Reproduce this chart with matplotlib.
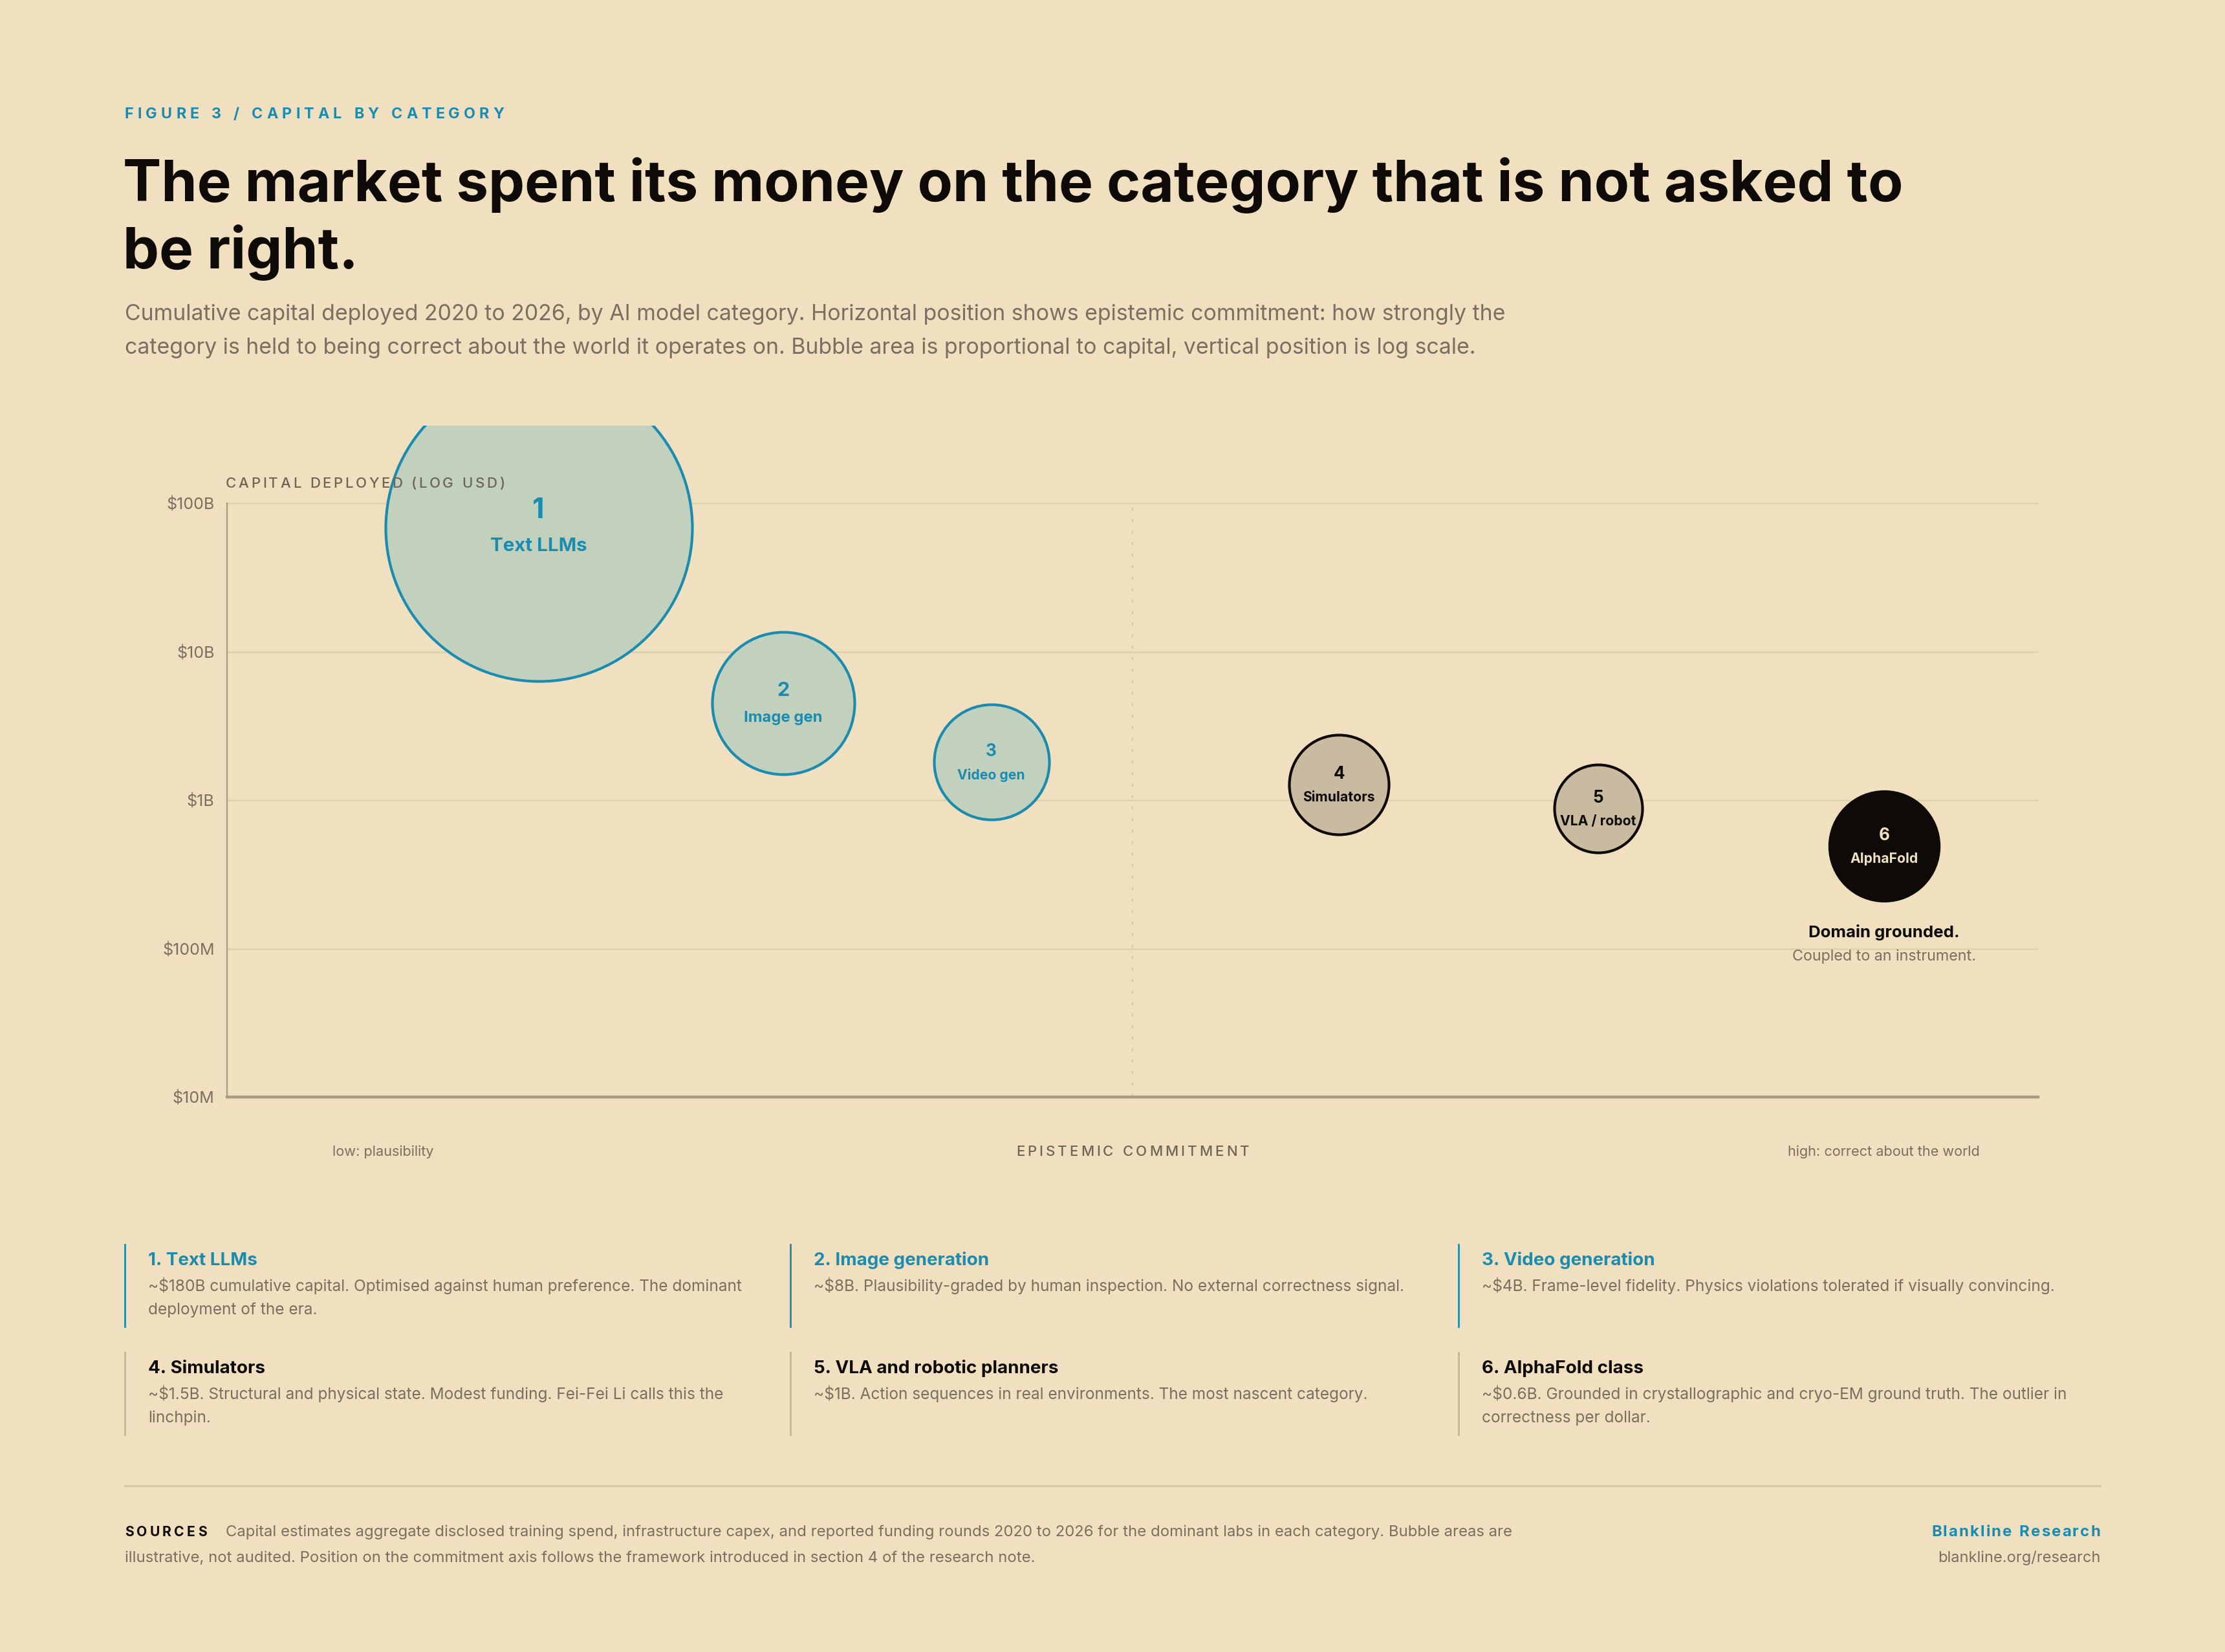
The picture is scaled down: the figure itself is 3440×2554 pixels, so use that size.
import matplotlib
matplotlib.use("Agg")
import matplotlib.pyplot as plt
import numpy as np

plt.rcParams['font.family'] = ['Inter', 'DejaVu Sans']

# ---- data -------------------------------------------------------------
categories = ["Text LLMs", "Image gen", "Video gen", "Simulators", "VLA / robot", "AlphaFold"]
numbers = ["1", "2", "3", "4", "5", "6"]
commitment = [0.172, 0.307, 0.422, 0.614, 0.757, 0.915]          # 0 = plausibility, 1 = correct
capital_pos = [6.8e10, 4.5e9, 1.8e9, 1.27e9, 8.8e8, 4.9e8]          # plotted vertical position, USD
bubble_area = [1.0, 0.2154, 0.1410, 0.1056, 0.0823, 0.1317]        # relative bubble area
group = ["gen", "gen", "gen", "world", "world", "grounded"]

ytick_vals = [1e7, 1e8, 1e9, 1e10, 1e11]
ytick_labels = ["$10M", "$100M", "$1B", "$10B", "$100B"]

card_titles = ["1. Text LLMs", "2. Image generation", "3. Video generation",
               "4. Simulators", "5. VLA and robotic planners", "6. AlphaFold class"]
card_bodies = [
    "~$180B cumulative capital. Optimised against human preference. The dominant\ndeployment of the era.",
    "~$8B. Plausibility-graded by human inspection. No external correctness signal.",
    "~$4B. Frame-level fidelity. Physics violations tolerated if visually convincing.",
    "~$1.5B. Structural and physical state. Modest funding. Fei-Fei Li calls this the\nlinchpin.",
    "~$1B. Action sequences in real environments. The most nascent category.",
    "~$0.6B. Grounded in crystallographic and cryo-EM ground truth. The outlier in\ncorrectness per dollar.",
]

# ---- style ------------------------------------------------------------
BG = "#F0E0BF"
TEAL = "#1A8CB0"
INK = "#0E0A07"
GREY = "#7A6F60"
AXIS = "#A89B80"
GRID = "#E2D2B0"

W, H, DPI = 3440, 2554, 200
fig = plt.figure(figsize=(W / DPI, H / DPI), dpi=DPI, facecolor=BG)


def fx(px):
    return px / W


def fy(py):
    return 1 - py / H


def txt(x, y, s, **kw):
    kw.setdefault('va', 'baseline')
    return fig.text(fx(x), fy(y), s, transform=fig.transFigure, **kw)


def tracked(x, y, s, size, track, ha='left', **kw):
    # letter-spaced text, x/y in pixels, track in em
    r = fig.canvas.get_renderer()
    em = size * DPI / 72
    widths = []
    for ch in s:
        if ch == ' ':
            widths.append(0.3 * em)
        else:
            t = fig.text(0, 0, ch, fontsize=size, **kw)
            widths.append(t.get_window_extent(r).width)
            t.remove()
    total = sum(widths) + track * em * (len(s) - 1)
    x0 = x - total / 2 if ha == 'center' else (x - total if ha == 'right' else x)
    for ch, w in zip(s, widths):
        if ch != ' ':
            txt(x0, y, ch, fontsize=size, ha='left', **kw)
        x0 += w + track * em


# ---- header -----------------------------------------------------------
tracked(193, 183, "FIGURE 3 / CAPITAL BY CATEGORY", 8.4, 0.26, color=TEAL, weight='bold')
txt(190, 311, "The market spent its money on the category that is not asked to",
    fontsize=32, weight='bold', color=INK)
txt(190, 415, "be right.", fontsize=32, weight='bold', color=INK)
txt(193, 495, "Cumulative capital deployed 2020 to 2026, by AI model category. Horizontal position "
    "shows epistemic commitment: how strongly the", fontsize=12.2, color=GREY)
txt(193, 547, "category is held to being correct about the world it operates on. Bubble area is "
    "proportional to capital, vertical position is log scale.", fontsize=12.2, color=GREY)

# ---- chart ------------------------------------------------------------
ax = fig.add_axes([fx(351), fy(1696), fx(3151) - fx(351), fy(658) - fy(1696)])
ax.set_facecolor('none')
ax.set_yscale('log')
ax.set_xlim(0, 1)
ax.set_ylim(1e7, 10 ** 11.523)
for s in ['top', 'right']:
    ax.spines[s].set_visible(False)
ax.spines['left'].set_color(AXIS)
ax.spines['left'].set_linewidth(0.8)
ax.spines['left'].set_bounds(1e7, 1e11)
ax.spines['bottom'].set_color(AXIS)
ax.spines['bottom'].set_linewidth(1.6)
ax.set_xticks([])
ax.yaxis.set_minor_locator(matplotlib.ticker.NullLocator())
ax.set_yticks(ytick_vals)
ax.set_yticklabels(ytick_labels)
ax.tick_params(axis='y', length=0, pad=7, labelsize=9, labelcolor=GREY)

for v in ytick_vals[1:]:
    ax.axhline(v, color=GRID, lw=1.0, zorder=0)
ax.plot([0.5, 0.5], [1e7, 1e11], ls=(0, (2, 6)), color="#D6C6A6", lw=0.8, zorder=0)

r_max_px = 237
s_max = (2 * r_max_px * 72 / DPI) ** 2
styles = {
    "gen": dict(fc="#C2D1BE", ec=TEAL, tc=TEAL, lw=1.5),
    "world": dict(fc="#C9BBA0", ec=INK, tc=INK, lw=1.5),
    "grounded": dict(fc=INK, ec=INK, tc=BG, lw=0.5),
}
for xv, yv, a, g, num, lab in zip(commitment, capital_pos, bubble_area, group, numbers, categories):
    st = styles[g]
    ax.scatter([xv], [yv], s=a * s_max, facecolor=st['fc'], edgecolor=st['ec'],
               linewidth=st['lw'], zorder=3)
    r_px = r_max_px * np.sqrt(a)
    fs_num = max(9.4, min(15.5, r_px * 0.1))
    fs_lab = max(7.6, min(10.6, r_px * 0.078))
    ax.annotate(num, (xv, yv), xytext=(0, 0.62 * fs_num), textcoords='offset points',
                ha='center', va='center', fontsize=fs_num, weight='bold', color=st['tc'], zorder=4)
    ax.annotate(lab, (xv, yv), xytext=(0, -0.95 * fs_lab), textcoords='offset points',
                ha='center', va='center', fontsize=fs_lab, weight='bold', color=st['tc'], zorder=4)

# note under AlphaFold
ax.annotate("Domain grounded.", (commitment[-1], capital_pos[-1]), xytext=(0, -48),
            textcoords='offset points', ha='center', va='center', fontsize=9.3,
            weight='bold', color=INK)
ax.annotate("Coupled to an instrument.", (commitment[-1], capital_pos[-1]), xytext=(0, -61.5),
            textcoords='offset points', ha='center', va='center', fontsize=8.4, color=GREY)

tracked(349, 754, "CAPITAL DEPLOYED (LOG USD)", 8, 0.16, color="#6F6557", weight='medium')
tracked(1751, 1787, "EPISTEMIC COMMITMENT", 8, 0.18, ha='center', color="#6F6557", weight='medium')
txt(592, 1787, "low: plausibility", fontsize=7.8, color=GREY, ha='center')
txt(2912, 1787, "high: correct about the world", fontsize=7.8, color=GREY, ha='center')

# ---- cards ------------------------------------------------------------
col_x = [193, 1222, 2255]
row_y = [1924, 2091]
for i, (title, body) in enumerate(zip(card_titles, card_bodies)):
    row, col = divmod(i, 3)
    x0, y0 = col_x[col], row_y[row]
    bar_c = TEAL if row == 0 else "#C5B597"
    fig.add_artist(matplotlib.lines.Line2D([fx(x0), fx(x0)], [fy(y0), fy(y0 + 127)],
                                           color=bar_c, lw=1.0, transform=fig.transFigure))
    txt(x0 + 36, y0 + 32, title, fontsize=10, weight='bold', color=TEAL if row == 0 else INK)
    for k, line in enumerate(body.split("\n")):
        txt(x0 + 36, y0 + 72 + 36 * k, line, fontsize=8.8, color=GREY)

# ---- footer -----------------------------------------------------------
fig.add_artist(matplotlib.lines.Line2D([fx(193), fx(3247)], [fy(2297), fy(2297)],
                                       color="#D3C3A3", lw=1.0, transform=fig.transFigure))
tracked(193, 2375, "SOURCES", 7.6, 0.2, color=INK, weight='bold')
txt(349, 2375, "Capital estimates aggregate disclosed training spend, infrastructure capex, and "
    "reported funding rounds 2020 to 2026 for the dominant labs in each category. Bubble areas are",
    fontsize=8.6, color=GREY)
txt(193, 2415, "illustrative, not audited. Position on the commitment axis follows the framework "
    "introduced in section 4 of the research note.", fontsize=8.6, color=GREY)
tracked(3247, 2375, "Blankline Research", 8.6, 0.09, ha='right', color=TEAL, weight='bold')
txt(3247, 2415, "blankline.org/research", fontsize=8.5, color=GREY, ha='right')

fig.savefig("out.png", dpi=DPI, facecolor=BG)
